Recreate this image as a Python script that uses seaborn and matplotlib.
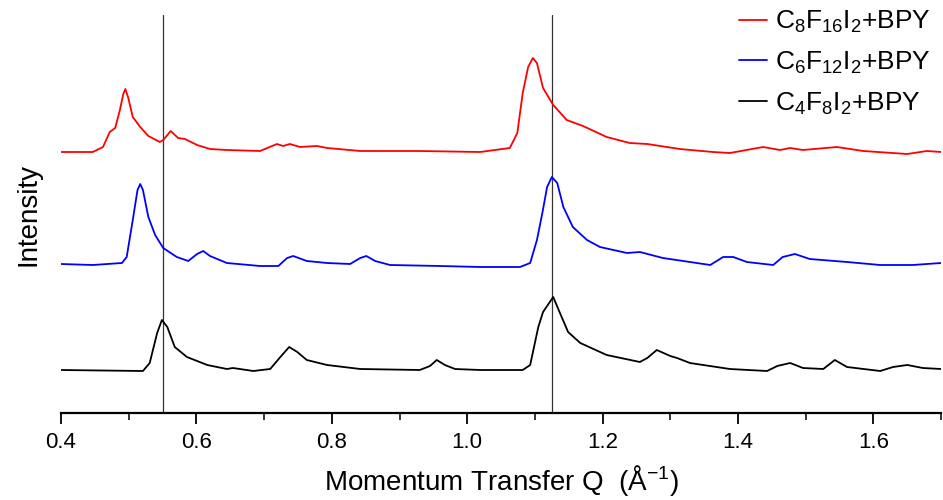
import pandas as pd
import matplotlib
matplotlib.use("Agg")
import matplotlib.pyplot as plt
import seaborn as sns
from matplotlib.ticker import MultipleLocator

# Data (Q in 1/A, intensity in arbitrary offset units)
q_red = [0.400, 0.447, 0.462, 0.472, 0.480, 0.487, 0.492, 0.495, 0.499, 0.506,
         0.517, 0.529, 0.546, 0.551, 0.562, 0.573, 0.583, 0.601, 0.620, 0.645,
         0.694, 0.719, 0.728, 0.738, 0.753, 0.778, 0.793, 0.842, 0.930, 1.019,
         1.063, 1.074, 1.082, 1.090, 1.097, 1.103, 1.112, 1.127, 1.147, 1.171,
         1.206, 1.240, 1.266, 1.314, 1.363, 1.388, 1.437, 1.462, 1.477, 1.496,
         1.546, 1.585, 1.650, 1.679, 1.700]
i_red = [261, 261, 266, 281, 285, 303, 319, 324, 316, 296,
         286, 277, 271, 273, 282, 275, 274, 268, 264, 263,
         262, 269, 267, 269, 266, 267, 265, 262, 262, 261,
         265, 280, 320, 346, 355, 350, 325, 308, 293, 287,
         276, 270, 269, 264, 261, 260, 266, 263, 265, 263,
         266, 262, 259, 262, 261]

q_blue = [0.400, 0.447, 0.490, 0.497, 0.506, 0.513, 0.517, 0.521, 0.529, 0.539,
          0.551, 0.571, 0.588, 0.601, 0.610, 0.620, 0.645, 0.694, 0.721, 0.734,
          0.743, 0.763, 0.793, 0.827, 0.842, 0.851, 0.864, 0.886, 0.960, 1.019,
          1.078, 1.093, 1.103, 1.111, 1.118, 1.125, 1.133, 1.142, 1.156, 1.177,
          1.196, 1.236, 1.255, 1.289, 1.359, 1.378, 1.393, 1.413, 1.452, 1.466,
          1.484, 1.506, 1.561, 1.610, 1.658, 1.700]
i_blue = [149, 148, 150, 156, 193, 223, 229, 223, 196, 178,
          165, 156, 152, 159, 162, 157, 150, 147, 147, 155,
          157, 152, 150, 149, 155, 157, 152, 148, 147, 146,
          146, 150, 173, 200, 226, 236, 230, 206, 186, 173,
          166, 160, 161, 155, 148, 156, 156, 151, 148, 156,
          159, 154, 151, 148, 148, 150]

q_black = [0.400, 0.521, 0.531, 0.542, 0.549, 0.557, 0.568, 0.586, 0.616, 0.645,
           0.654, 0.684, 0.709, 0.724, 0.737, 0.749, 0.763, 0.793, 0.842, 0.930,
           0.945, 0.955, 0.967, 0.982, 1.019, 1.082, 1.093, 1.105, 1.112, 1.127,
           1.137, 1.149, 1.167, 1.206, 1.255, 1.266, 1.280, 1.300, 1.310, 1.329,
           1.388, 1.443, 1.458, 1.477, 1.496, 1.526, 1.543, 1.561, 1.610, 1.629,
           1.650, 1.673, 1.700]
i_black = [43, 42, 50, 80, 93, 86, 66, 56, 48, 44,
           45, 42, 44, 56, 66, 61, 53, 48, 44, 43,
           47, 53, 48, 44, 43, 43, 48, 86, 101, 116,
           100, 81, 70, 58, 51, 55, 63, 57, 55, 50,
           44, 42, 47, 50, 45, 44, 53, 46, 42, 46,
           48, 45, 44]

labels = [r"C$_8$F$_{16}$I$_2$+BPY", r"C$_6$F$_{12}$I$_2$+BPY", r"C$_4$F$_8$I$_2$+BPY"]
colors = ["#ff0000", "#0000ff", "#000000"]
ref_lines = [0.55, 1.125]

sns.set_style("white")
plt.rcParams["font.family"] = ["Liberation Sans", "DejaVu Sans"]
plt.rcParams["mathtext.fontset"] = "custom"
plt.rcParams["mathtext.rm"] = "Liberation Sans"
plt.rcParams["mathtext.default"] = "regular"
plt.rcParams["text.color"] = "black"
plt.rcParams["axes.labelcolor"] = "black"
plt.rcParams["xtick.color"] = "black"

fig = plt.figure(figsize=(9.43, 5.0), dpi=100)
ax = fig.add_axes([0.0647, 0.174, 0.9333, 0.796])

for q, inten, lab, col in zip([q_red, q_blue, q_black], [i_red, i_blue, i_black], labels, colors):
    df = pd.DataFrame({"Q": q, "I": inten})
    sns.lineplot(data=df, x="Q", y="I", color=col, lw=1.3, label=lab,
                 sort=False, estimator=None, ax=ax)

for xv in ref_lines:
    ax.axvline(xv, color="#333333", lw=0.9, zorder=0)

ax.set_xlim(0.4, 1.7)
ax.set_ylim(0, 398)
ax.xaxis.set_major_locator(MultipleLocator(0.2))
ax.xaxis.set_minor_locator(MultipleLocator(0.1))
ax.xaxis.set_major_formatter(plt.FormatStrFormatter("%.1f"))
ax.set_yticks([])
for s in ["top", "right", "left"]:
    ax.spines[s].set_visible(False)
ax.spines["bottom"].set_linewidth(1.6)
ax.spines["bottom"].set_color("black")
ax.tick_params(axis="x", which="major", direction="out", length=8, width=1.3,
               labelsize=16, bottom=True, pad=6)
ax.tick_params(axis="x", which="minor", direction="out", length=5, width=1.1, bottom=True)

ax.set_xlabel(r"Momentum Transfer Q  (Å$^{-1}$)", fontsize=20, labelpad=7)
ax.set_ylabel("Intensity", fontsize=20, labelpad=14)

ax.legend(loc="upper right", bbox_to_anchor=(1.015, 1.075), frameon=False,
          fontsize=19, handlelength=1.05, handletextpad=0.3, labelspacing=0.55)

fig.savefig("out.png", dpi=100)
plt.close(fig)
